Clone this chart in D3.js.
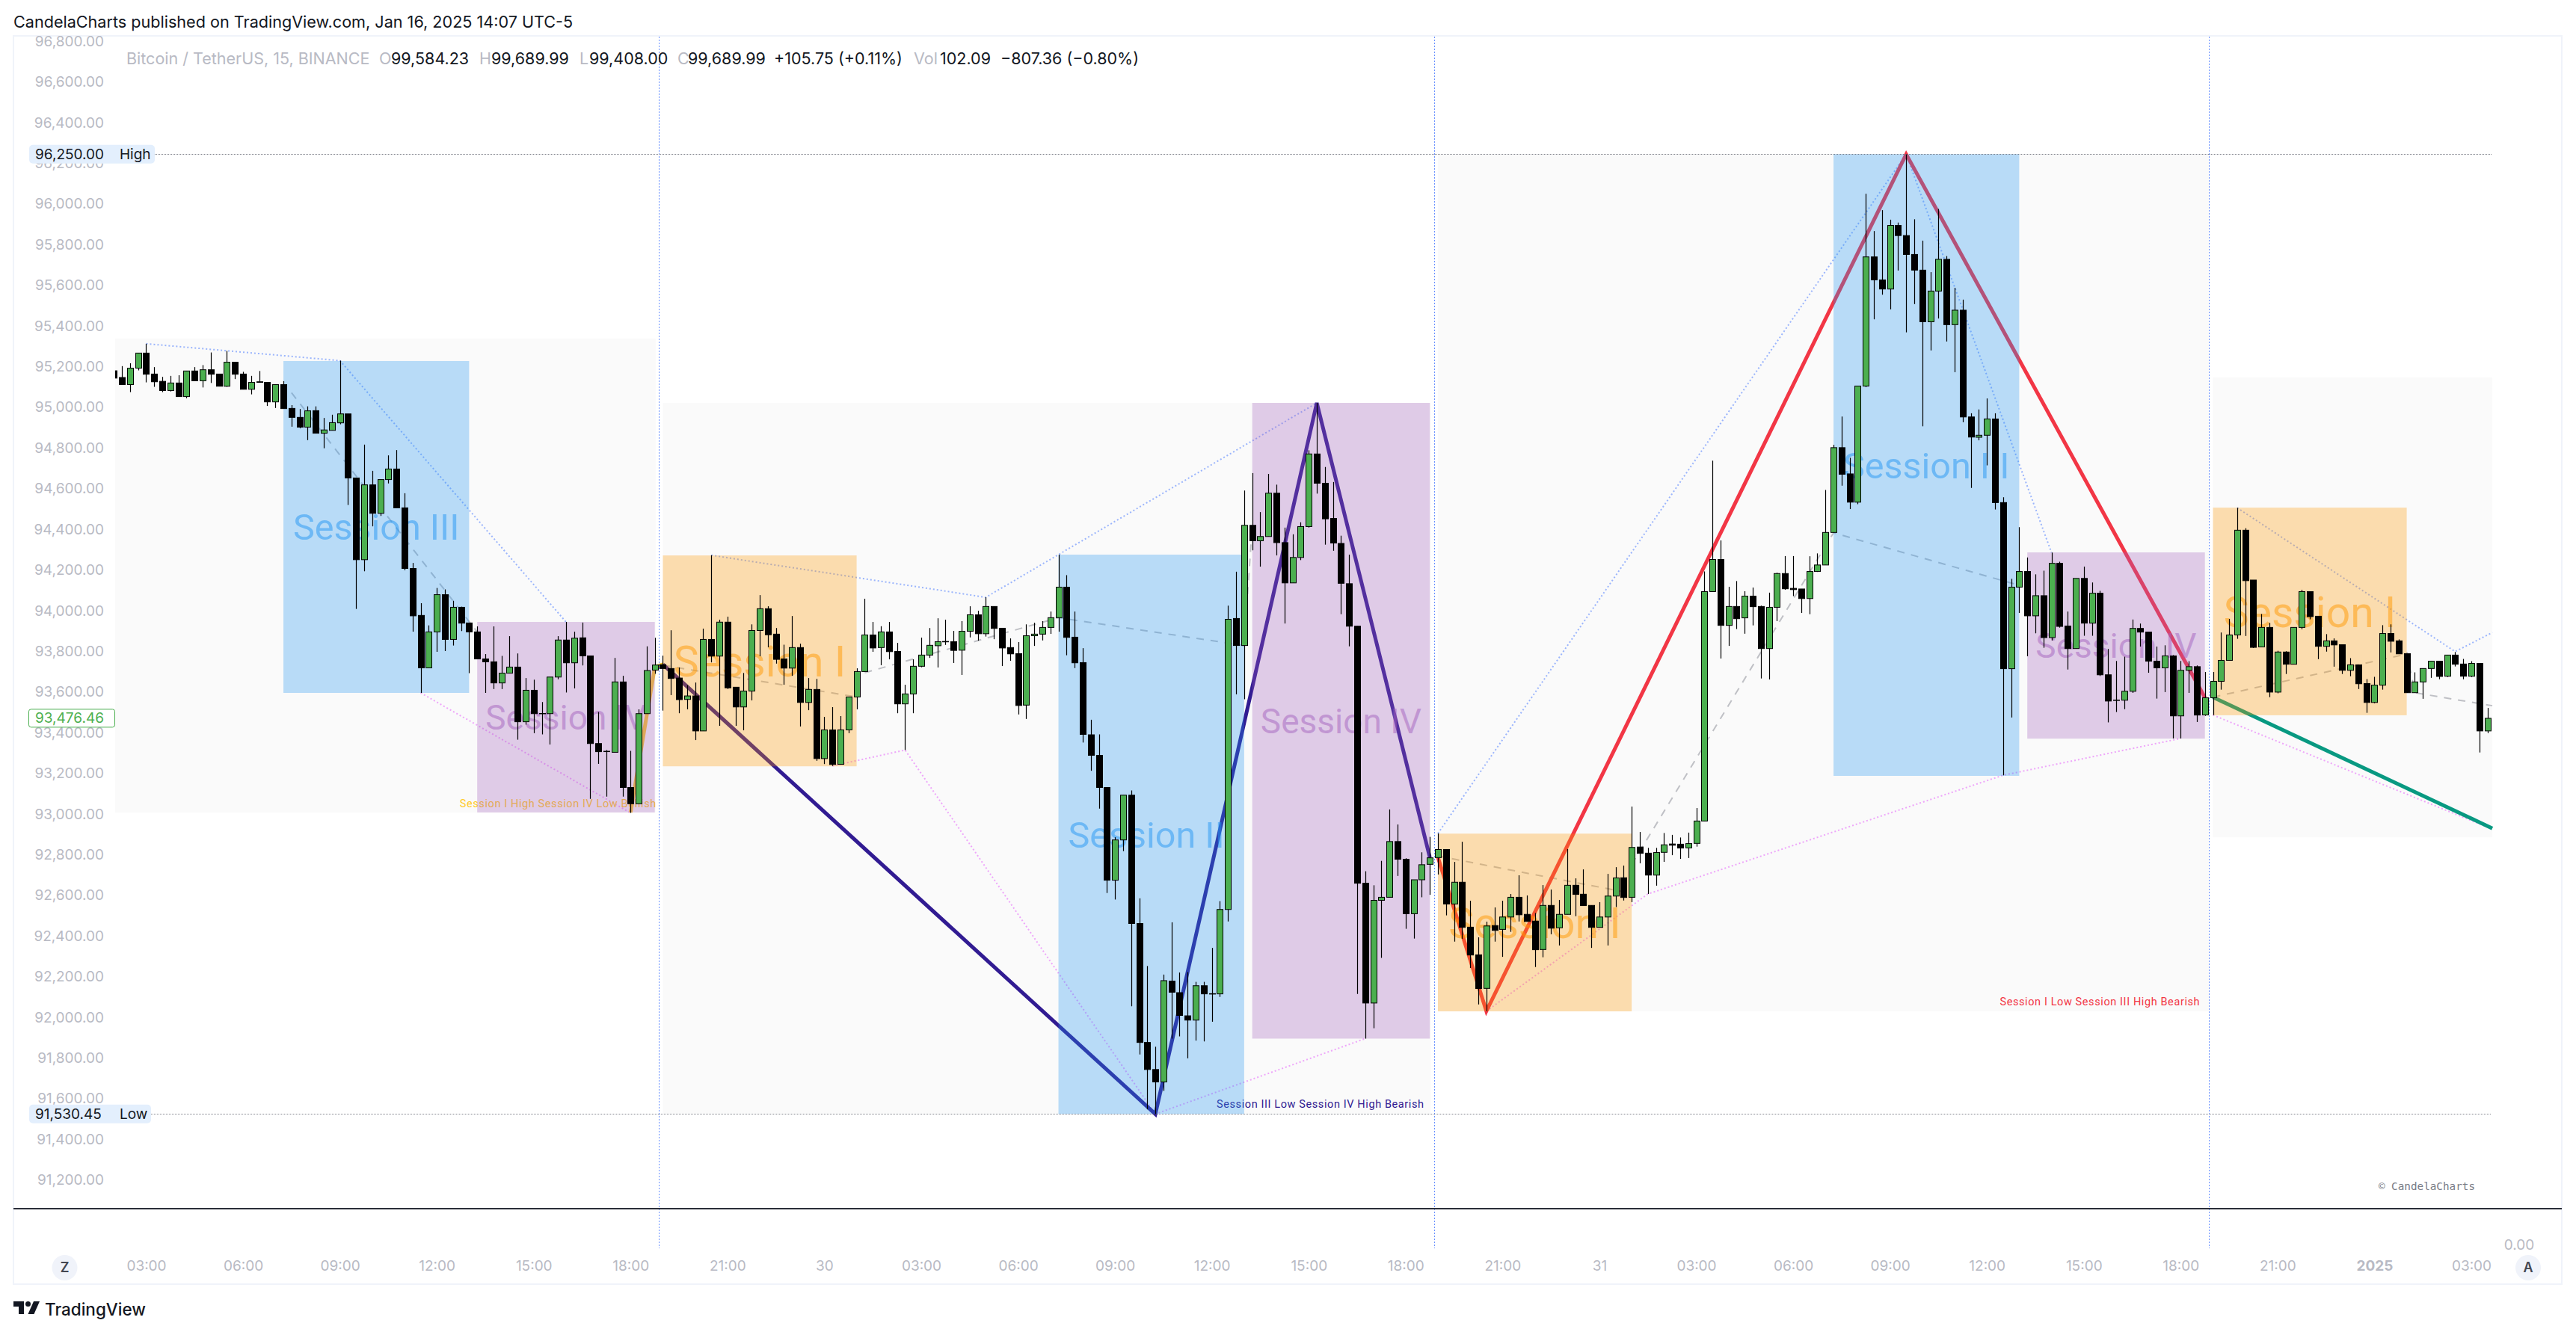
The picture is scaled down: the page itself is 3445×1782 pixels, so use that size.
<!DOCTYPE html>
<html>
    <head>
        <meta charset="utf-8" />
        <style>
            body { margin: 0; background: #fff; }
            svg { display: block; }
            text { font-family: Inter, "Noto Sans", sans-serif; }
            .price-axis text, .time-axis text { fill: #b8bac4; font-size: 19px; font-family: Inter, sans-serif; }
            .price-axis path, .time-axis path { display: none; }
        </style>
    </head>
    <body>
        <svg width="3445" height="1782"></svg>
        <script src="https://d3js.org/d3.v7.min.js"></script>
        <script>
            // 15 minute BTCUSDT bars, first bar is 02:00
            var opens = [
                95185,95152,95117,95198,95272,95169,95133,95088,95125,95058,
                95184,95136,95190,95169,95109,95227,95169,95094,95131,95128,
                95032,95117,95000,94956,94908,94989,94878,94892,94929,94973,
                94658,94256,94624,94484,94650,94702,94511,94213,93982,93724,
                93901,94084,93864,94022,93945,93901,93768,93754,93650,93698,
                93728,93459,93614,93499,93499,93679,93861,93749,93872,93783,
                93352,93314,93309,93655,93136,93056,93499,93713,93740,93721,
                93674,93569,93586,93414,93864,93782,93949,93629,93532,93610,
                93908,94015,93890,93768,93723,93824,93554,93618,93278,93419,
                93250,93419,93581,93706,93886,93824,93901,93805,93547,93596,
                93732,93787,93833,93854,93853,93811,93904,93985,93892,94026,
                93919,93824,93794,93541,93882,93890,93923,93971,94121,93875,
                93750,93395,93294,93136,92680,92878,93098,92467,91882,91749,
                91688,92184,92127,92013,91992,92161,92122,92121,92536,93967,
                93834,94425,94349,94370,94583,94340,94142,94267,94419,94776,
                94632,94459,94336,94138,93929,92665,92076,92581,92596,92870,
                92783,92515,92682,92758,92791,92831,92563,92670,92449,92313,
                92148,92457,92438,92499,92596,92512,92479,92339,92556,92446,
                92512,92655,92611,92556,92448,92499,92602,92692,92596,92843,
                92813,92705,92817,92858,92857,92839,92861,92971,94099,94257,
                93933,94026,93970,94077,94026,93819,94022,94188,94115,94112,
                94065,94198,94230,94390,94807,94678,94539,95110,95745,95632,
                95587,95900,95850,95757,95680,95426,95577,95733,95412,95483,
                94958,94858,94868,94948,94537,93720,94121,94198,93980,94079,
                93873,94238,93930,93819,94164,93944,94091,93690,93566,93565,
                93609,93918,93900,93757,93724,93783,93488,93712,93730,93493,
                93577,93658,93761,93886,94401,94156,93827,93923,93605,93802,
                93742,93923,94099,93978,93830,93857,93838,93712,93739,93647,
                93554,93639,93893,93857,93794,93602,93655,93721,93757,93683,
                93787,93743,93683,93746,93414];
            var highs = [
                95185,95208,95222,95272,95318,95203,95155,95160,95163,95184,
                95203,95213,95275,95169,95283,95227,95180,95160,95184,95128,
                95117,95134,95016,94997,95010,95010,94953,94969,95235,94973,
                94658,94822,94693,94650,94769,94795,94583,94240,94042,93933,
                94117,94110,94054,94025,93945,93928,93792,93928,93783,93880,
                93795,93674,93666,93556,93679,93880,93950,93902,93947,93783,
                93507,93320,93773,93685,93316,93520,93830,93872,93784,93909,
                93726,93639,93652,93917,94278,93961,93976,93629,93699,93938,
                94082,94027,93920,93838,93979,93843,93674,93670,93483,93531,
                93487,93581,93722,94064,93950,93929,93950,93847,93641,93766,
                93873,93920,93968,93961,93906,93954,94027,94005,94071,94026,
                93919,93869,93851,93938,93946,93954,94001,94281,94180,94001,
                93821,93469,93397,93136,92891,93098,93121,92591,92258,91861,
                92216,92473,92226,92228,92180,92180,92347,92577,94030,94197,
                94596,94682,94490,94678,94625,94414,94381,94440,94794,95027,
                94712,94638,94374,94281,93929,92724,92655,92775,93028,92954,
                92788,92682,92817,92893,92910,92831,92770,92869,92579,92399,
                92476,92546,92579,92612,92704,92605,92519,92656,92634,92583,
                92833,92689,92733,92556,92572,92711,92744,92752,93042,92917,
                92839,92839,92912,92903,92890,92914,93035,94198,94743,94351,
                94123,94151,94101,94119,94030,94094,94192,94274,94274,94112,
                94273,94287,94599,94821,94960,94757,95110,96055,95872,95975,
                95928,95914,96250,95930,95825,95670,95981,95749,95593,95535,
                94976,94995,95049,94976,94563,94162,94416,94267,94184,94202,
                94291,94246,94001,94164,94222,94144,94103,93817,93758,93779,
                93962,93942,93900,93829,93835,93787,93758,93757,93736,93704,
                93704,93898,93965,94511,94411,94156,93989,93945,93808,93806,
                93923,94108,94099,93978,93890,93869,93838,93772,93739,93669,
                93680,93934,93938,93864,93794,93702,93721,93757,93757,93787,
                93802,93768,93757,93746,93527];
            var lows = [
                95149,95117,95080,95187,95128,95106,95080,95083,95058,95050,
                95136,95103,95125,95109,95106,95144,95094,95069,95128,95012,
                95002,94999,94910,94902,94844,94878,94804,94892,94922,94525,
                94014,94199,94420,94471,94631,94511,94204,93902,93601,93724,
                93803,93807,93834,93905,93698,93768,93601,93620,93620,93698,
                93371,93445,93403,93397,93347,93668,93603,93623,93736,93080,
                93252,93091,93309,93091,93011,93056,93499,93695,93514,93590,
                93501,93520,93369,93414,93751,93439,93620,93439,93417,93564,
                93781,93825,93745,93641,93685,93436,93516,93267,93251,93242,
                93250,93403,93520,93706,93803,93737,93766,93501,93320,93501,
                93727,93773,93726,93837,93748,93689,93874,93858,93878,93865,
                93733,93759,93495,93473,93832,93859,93891,93902,93786,93723,
                93357,93218,93032,92617,92585,92823,92060,91823,91553,91530,
                91644,91901,91912,91804,91891,91887,91984,92106,92477,93594,
                93570,94302,94222,94370,94277,93942,94142,94254,94414,94581,
                94330,94300,93988,93830,92121,91901,91952,92298,92596,92701,
                92441,92393,92596,92608,92708,92507,92378,92392,92248,92069,
                92036,92378,92303,92426,92477,92477,92253,92301,92414,92359,
                92512,92503,92555,92347,92448,92359,92548,92580,92572,92763,
                92612,92653,92770,92803,92785,92789,92845,92971,94099,93770,
                93832,93915,93892,93933,93672,93667,93954,94108,94077,93994,
                93988,94196,94230,94390,94620,94505,94529,95104,95438,95559,
                95487,95678,95374,95513,94912,95285,95442,95329,95178,94932,
                94609,94843,94720,94503,93196,93480,93994,93781,93894,93823,
                93859,93922,93716,93819,93882,93882,93684,93456,93507,93521,
                93601,93829,93700,93573,93605,93377,93377,93601,93458,93488,
                93492,93617,93761,93867,93881,93822,93827,93580,93599,93694,
                93742,93914,93963,93767,93804,93730,93694,93683,93620,93503,
                93550,93617,93800,93793,93602,93602,93572,93675,93668,93679,
                93731,93668,93679,93308,93403];
            var closes = [
                95149,95117,95198,95272,95168,95131,95088,95125,95058,95184,
                95136,95190,95168,95109,95227,95168,95094,95128,95128,95032,
                95117,94999,94956,94908,94988,94878,94894,94930,94973,94658,
                94256,94624,94484,94650,94702,94511,94213,93980,93724,93901,
                94084,93864,94022,93944,93901,93768,93754,93650,93698,93728,
                93459,93614,93499,93500,93679,93861,93749,93870,93783,93352,
                93312,93313,93655,93136,93056,93499,93711,93738,93721,93672,
                93568,93586,93414,93864,93782,93949,93626,93532,93610,93908,
                94015,93887,93766,93723,93824,93554,93618,93278,93419,93249,
                93419,93581,93706,93886,93822,93901,93804,93547,93596,93732,
                93787,93835,93853,93852,93810,93904,93985,93892,94026,93918,
                93822,93793,93539,93882,93890,93923,93971,94121,93874,93749,
                93397,93294,93136,92680,92878,93098,92467,91882,91749,91688,
                92186,92129,92015,91992,92161,92121,92120,92536,93963,93834,
                94425,94349,94370,94583,94340,94142,94267,94419,94776,94632,
                94457,94338,94140,93929,92665,92076,92581,92596,92870,92783,
                92515,92682,92756,92790,92831,92563,92670,92448,92312,92147,
                92455,92433,92499,92596,92510,92477,92338,92556,92444,92512,
                92655,92610,92555,92448,92499,92602,92691,92595,92841,92812,
                92705,92816,92854,92852,92838,92860,92971,94099,94257,93933,
                94026,93966,94077,94025,93819,94022,94188,94113,94109,94065,
                94198,94230,94390,94807,94676,94539,95110,95745,95632,95587,
                95900,95850,95757,95680,95426,95577,95733,95412,95483,94958,
                94859,94868,94948,94537,93720,94121,94198,93980,94079,93873,
                94238,93928,93819,94164,93944,94091,93690,93561,93564,93609,
                93918,93900,93757,93724,93783,93488,93712,93730,93492,93577,
                93658,93761,93886,94401,94153,93825,93923,93605,93802,93742,
                93923,94099,93976,93830,93857,93837,93712,93739,93646,93554,
                93639,93893,93855,93793,93602,93655,93721,93757,93682,93787,
                93742,93683,93746,93414,93476];

            // tick labels along the bottom, one every 12 bars from bar 4
            var timeLabels = ["03:00","06:00","09:00","12:00","15:00","18:00","21:00","30",
                "03:00","06:00","09:00","12:00","15:00","18:00","21:00","31",
                "03:00","06:00","09:00","12:00","15:00","18:00","21:00","2025","03:00"];
            var sessionBreaks = [67.5, 163.5, 259.5];

            // daily ranges [first bar, last bar, high, low]
            var dayRanges = [
                [-2, 67.1, 95343, 93013],
                [68, 163.1, 95027, 91530],
                [164, 259.5, 96250, 92036],
                [260, 294.6, 95152, 92891]
            ];

            // session boxes [name, first bar, last bar, high, low]
            var sessions = [
                ["Session III", 21, 44, 95233, 93601],
                ["Session IV", 45, 67, 93950, 93013],
                ["Session I", 68, 92, 94277, 93240],
                ["Session III", 117, 140, 94281, 91530],
                ["Session IV", 141, 163, 95027, 91901],
                ["Session I", 164, 188, 92909, 92035],
                ["Session III", 213, 236, 96250, 93193],
                ["Session IV", 237, 259, 94292, 93376],
                ["Session I", 260, 284, 94512, 93491]
            ];
            // colour, box opacity, text opacity, text size
            var sessionStyles = {
                "Session I": ["#ff9800", 0.3, 0.5, 57],
                "Session III": ["#2196f3", 0.3, 0.5, 48.5],
                "Session IV": ["#a361be", 0.3, 0.5, 46]
            };

            // zigzags [bar, price]
            var zigzagYellow = [[64, 93013], [67, 93728], [68, 93741]];
            var zigzagNavy = [[68, 93741], [129, 91530], [149, 95027], [163, 92792]];
            var zigzagRed = [[164, 92792], [170, 92036], [222, 96250], [259, 93578]];
            var zigzagGreen = [[260, 93580], [294.6, 92935]];

            var highLines = [
                [[4, 95318], [28, 95235], [56, 93950]],
                [[74, 94278], [108, 94071], [117, 94281], [149, 95027]],
                [[164, 92910], [222, 96250], [240, 94291]],
                [[263, 94511], [290, 93804], [294.6, 93898]]
            ];
            var lowLines = [
                [[38, 93601], [64, 93011]],
                [[89, 93242], [98, 93320], [129, 91530], [155, 91901]],
                [[170, 92036], [190, 92612], [234, 93196], [256, 93377]],
                [[260, 93492], [294.6, 92931]]
            ];
            var midLines = [
                [[22, 95077], [45, 93901]],
                [[68, 93737], [92, 93581]],
                [[93, 93700], [117, 93971], [140, 93834], [141, 94425]],
                [[164, 92799], [187, 92623]],
                [[188, 92757], [213, 94388], [236, 94130]],
                [[260, 93580], [284, 93792]],
                [[284, 93802], [285, 93602], [294.6, 93538]]
            ];

            var svg = d3.select("svg");

            var x = d3.scaleLinear().domain([0, 294]).range([152.3, 3326.6]);
            var y = d3.scaleLinear().domain([96250, 91530.45]).range([206.3, 1490.3]);

            var line = d3.line()
                    .x(function (d) { return x(d[0]); })
                    .y(function (d) { return y(d[1]); });

            // frame
            svg.append("rect").attr("x", 18).attr("y", 48).attr("width", 3408).attr("height", 1670)
                    .attr("fill", "#fff").attr("stroke", "#f0f3fa").attr("stroke-width", 2);

            svg.append("defs").append("clipPath").attr("id", "pane")
                    .append("rect").attr("x", 154).attr("y", 49).attr("width", 3270).attr("height", 1567);

            var pane = svg.append("g").attr("clip-path", "url(#pane)");

            pane.selectAll(".day").data(dayRanges).enter().append("rect")
                    .attr("class", "day")
                    .attr("x", function (d) { return x(d[0]); })
                    .attr("y", function (d) { return y(d[2]); })
                    .attr("width", function (d) { return x(d[1]) - x(d[0]); })
                    .attr("height", function (d) { return y(d[3]) - y(d[2]); })
                    .attr("fill", "#787b86").attr("opacity", 0.04);

            function drawLines(data, color, width, dash, opacity) {
                pane.append("g").selectAll("path").data(data).enter().append("path")
                        .attr("d", line)
                        .attr("fill", "none")
                        .attr("stroke", color)
                        .attr("stroke-width", width)
                        .attr("stroke-dasharray", dash)
                        .attr("stroke-opacity", opacity);
            }

            drawLines(midLines, "#787b86", 2, "10 9", 0.45);
            drawLines(highLines, "#2962ff", 2, "2 3", 0.45);
            drawLines(lowLines, "#e040fb", 2, "2 3", 0.45);
            drawLines([zigzagYellow], "#fac833", 5, null, 1);
            drawLines([zigzagNavy], "#311b92", 5, null, 1);
            drawLines([zigzagRed], "#f23645", 5, null, 1);
            drawLines([zigzagGreen], "#089981", 5, null, 1);

            // captions sit under the boxes
            var captions = [
                ["Session I High Session IV Low Bullish", 67.2, 1075, "#ffca28"],
                ["Session III Low Session IV High Bearish", 162.3, 1477, "#311b92"],
                ["Session I Low Session III High Bearish", 258.4, 1340, "#f23645"]
            ];
            pane.selectAll(".caption").data(captions).enter().append("text")
                    .attr("class", "caption")
                    .attr("x", function (d) { return x(d[1]); })
                    .attr("y", function (d) { return d[2]; })
                    .attr("dy", "0.35em")
                    .attr("text-anchor", "end")
                    .attr("fill", function (d) { return d[3]; })
                    .style("font-family", "Roboto")
                    .style("font-size", "14.5px")
                    .style("letter-spacing", "0.6px")
                    .text(function (d) { return d[0]; });

            pane.selectAll(".session").data(sessions).enter().append("rect")
                    .attr("class", "session")
                    .attr("x", function (d) { return x(d[1]); })
                    .attr("y", function (d) { return y(d[3]); })
                    .attr("width", function (d) { return x(d[2]) - x(d[1]); })
                    .attr("height", function (d) { return y(d[4]) - y(d[3]); })
                    .attr("fill", function (d) { return sessionStyles[d[0]][0]; })
                    .attr("fill-opacity", function (d) { return sessionStyles[d[0]][1]; });

            pane.selectAll(".session-name").data(sessions).enter().append("text")
                    .attr("class", "session-name")
                    .attr("x", function (d) { return (x(d[1]) + x(d[2])) / 2; })
                    .attr("y", function (d) { return (y(d[3]) + y(d[4])) / 2; })
                    .attr("dy", "0.36em")
                    .attr("text-anchor", "middle")
                    .attr("fill", function (d) { return sessionStyles[d[0]][0]; })
                    .attr("fill-opacity", function (d) { return sessionStyles[d[0]][2]; })
                    .style("font-family", "Roboto")
                    .style("font-size", function (d) { return sessionStyles[d[0]][3] + "px"; })
                    .text(function (d) { return d[0]; });

            // candles
            var candle = pane.selectAll(".candle").data(d3.range(opens.length)).enter().append("g")
                    .attr("class", "candle");

            candle.append("line")
                    .attr("x1", function (i) { return Math.round(x(i)) + 0.5; })
                    .attr("x2", function (i) { return Math.round(x(i)) + 0.5; })
                    .attr("y1", function (i) { return y(highs[i]); })
                    .attr("y2", function (i) { return y(lows[i]); })
                    .attr("stroke", "#000")
                    .attr("stroke-width", 1.2);

            candle.append("rect")
                    .attr("x", function (i) { return Math.round(x(i)) - 3.5; })
                    .attr("width", 8)
                    .attr("y", function (i) { return y(Math.max(opens[i], closes[i])); })
                    .attr("height", function (i) { return Math.max(Math.abs(y(opens[i]) - y(closes[i])), 0.5); })
                    .attr("fill", function (i) { return closes[i] >= opens[i] ? "#4caf50" : "#000"; })
                    .attr("stroke", "#000")
                    .attr("stroke-width", 1);

            // session breaks
            svg.selectAll(".break").data(sessionBreaks).enter().append("line")
                    .attr("class", "break")
                    .attr("x1", function (d) { return Math.round(x(d)) + 0.5; })
                    .attr("x2", function (d) { return Math.round(x(d)) + 0.5; })
                    .attr("y1", 49)
                    .attr("y2", 1670)
                    .attr("stroke", "#2962ff")
                    .attr("stroke-dasharray", "2 2")
                    .attr("stroke-opacity", 0.7);

            // high and low marks
            var extremes = [["96,250.00", "High", 96250, 207], ["91,530.45", "Low", 91530.45, 202]];
            svg.selectAll(".extreme-line").data(extremes).enter().append("line")
                    .attr("class", "extreme-line")
                    .attr("x1", function (d) { return d[3]; })
                    .attr("x2", 3332)
                    .attr("y1", function (d) { return Math.round(y(d[2])) + 0.5; })
                    .attr("y2", function (d) { return Math.round(y(d[2])) + 0.5; })
                    .attr("stroke", "#50535e")
                    .attr("stroke-dasharray", "1 1")
                    .attr("stroke-opacity", 0.7);

            // main pane bottom edge
            svg.append("line").attr("x1", 18).attr("x2", 3426).attr("y1", 1617).attr("y2", 1617)
                    .attr("stroke", "#2a2e39").attr("stroke-width", 2);

            // price axis
            var priceAxis = d3.axisLeft(y)
                    .tickValues(d3.range(91200, 96801, 200))
                    .tickFormat(d3.format(",.2f"))
                    .tickSize(0)
                    .tickPadding(0);
            svg.append("g").attr("class", "price-axis")
                    .attr("transform", "translate(139,-1.5)")
                    .call(priceAxis);

            var pill = svg.selectAll(".pill").data(extremes).enter().append("g").attr("class", "pill");
            pill.append("rect")
                    .attr("x", 39)
                    .attr("y", function (d) { return y(d[2]) - 12.5; })
                    .attr("width", function (d) { return d[3] - 39; })
                    .attr("height", 25)
                    .attr("rx", 5)
                    .attr("fill", "#e3effd");
            pill.append("text")
                    .attr("x", 47)
                    .attr("y", function (d) { return y(d[2]); })
                    .attr("dy", "0.34em")
                    .attr("fill", "#131722")
                    .style("font-size", "19px")
                    .text(function (d) { return d[0]; });
            pill.append("text")
                    .attr("x", 160)
                    .attr("y", function (d) { return y(d[2]); })
                    .attr("dy", "0.34em")
                    .attr("fill", "#131722")
                    .style("font-size", "19px")
                    .text(function (d) { return d[1]; });

            // last price tag
            svg.append("rect").attr("x", 38.5).attr("width", 115).attr("y", y(93476.46) - 12).attr("height", 24)
                    .attr("rx", 3).attr("fill", "#fff").attr("stroke", "#4caf50");
            svg.append("text").attr("x", 47).attr("y", y(93476.46)).attr("dy", "0.34em")
                    .attr("fill", "#4caf50").style("font-size", "19px").text("93,476.46");

            // time axis
            var timeAxis = d3.axisBottom(x)
                    .tickValues(d3.range(4, 295, 12))
                    .tickFormat(function (d, i) { return timeLabels[i]; })
                    .tickSize(0)
                    .tickPadding(0);
            svg.append("g").attr("class", "time-axis")
                    .attr("transform", "translate(0,1686)")
                    .call(timeAxis)
                    .selectAll("text")
                    .style("font-weight", function (d, i) { return timeLabels[i] == "2025" ? 700 : 400; });

            svg.append("text").attr("x", 3369).attr("y", 1666).attr("dy", "0.34em").attr("text-anchor", "middle")
                    .attr("fill", "#b8bac4").style("font-size", "19px").text("0.00");

            var buttons = [["Z", 86.5], ["A", 3381]];
            svg.selectAll(".btn").data(buttons).enter().append("circle")
                    .attr("class", "btn")
                    .attr("cx", function (d) { return d[1]; })
                    .attr("cy", 1696)
                    .attr("r", 17)
                    .attr("fill", "#f0f3fa");
            svg.selectAll(".btn-label").data(buttons).enter().append("text")
                    .attr("class", "btn-label")
                    .attr("x", function (d) { return d[1]; })
                    .attr("y", 1696)
                    .attr("dy", "0.36em")
                    .attr("text-anchor", "middle")
                    .attr("fill", "#434651")
                    .style("font-size", "18px")
                    .style("font-weight", 600)
                    .text(function (d) { return d[0]; });

            // header
            svg.append("text").attr("x", 18).attr("y", 29).attr("dy", "0.35em")
                    .attr("fill", "#131722").style("font-size", "21.6px")
                    .text("CandelaCharts published on TradingView.com, Jan 16, 2025 14:07 UTC-5");

            // legend, [text, x, dark?]
            var legend = [
                ["Bitcoin / TetherUS, 15, BINANCE", 169, 0],
                ["O", 507, 0], ["99,584.23", 523, 1],
                ["H", 641, 0], ["99,689.99", 657, 1],
                ["L", 775, 0], ["99,408.00", 788, 1],
                ["C", 906, 0], ["99,689.99", 920, 1],
                ["+105.75 (+0.11%)", 1035, 1],
                ["Vol", 1222, 0], ["102.09", 1257, 1],
                ["\u2212807.36 (\u22120.80%)", 1338, 1]
            ];
            svg.selectAll(".legend").data(legend).enter().append("text")
                    .attr("class", "legend")
                    .attr("x", function (d) { return d[1]; })
                    .attr("y", 78)
                    .attr("dy", "0.35em")
                    .attr("fill", function (d) { return d[2] ? "#131722" : "#b8bac4"; })
                    .style("font-size", "21.5px")
                    .text(function (d) { return d[0]; });

            // watermark
            svg.append("text").attr("x", 3310).attr("y", 1587).attr("dy", "0.35em").attr("text-anchor", "end")
                    .attr("fill", "#787b86").style("font-family", "DejaVu Sans Mono").style("font-size", "14.3px")
                    .text("\u00a9 CandelaCharts");

            // footer logo
            var logo = svg.append("g").attr("fill", "#131722");
            logo.append("path").attr("d", "M18 1741H32V1758H25V1748H18Z");
            logo.append("circle").attr("cx", 37.5).attr("cy", 1744.5).attr("r", 3.5);
            logo.append("path").attr("d", "M45 1741H53L45.5 1758H37.5Z");
            svg.append("text").attr("x", 60).attr("y", 1752).attr("dy", "0.35em")
                    .attr("fill", "#131722").style("font-size", "22.5px").style("font-weight", 500)
                    .text("TradingView");
        </script>
    </body>
</html>
